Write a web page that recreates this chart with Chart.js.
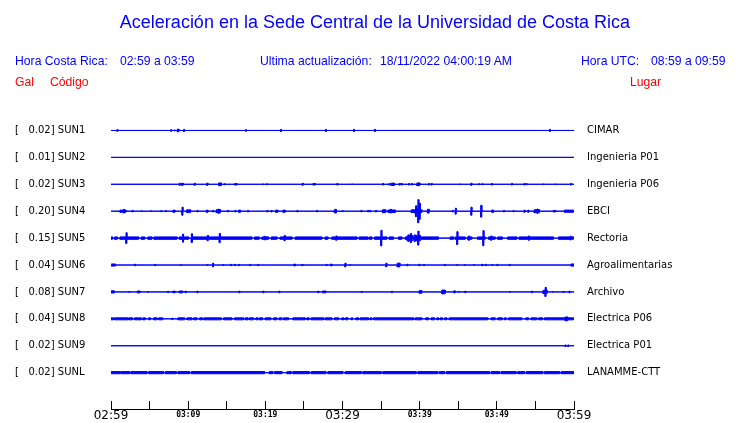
<!DOCTYPE html>
<html>
<head>
<meta charset="utf-8">
<script src="https://cdn.jsdelivr.net/npm/chart.js@4.4.1/dist/chart.umd.min.js"></script>
<style>
  body { margin: 0; background: #fff; }
  #wrap { position: relative; width: 740px; height: 423px; overflow: hidden; }
  #chart { position: absolute; left: 0; top: 0; }
  .t { position: absolute; white-space: pre; font-family: "Liberation Sans", Arial, sans-serif; line-height: 1; }
  .blue { color: #0000ff; }
  .red { color: #ff0000; }
  .hd { font-size: 12.2px; }
</style>
</head>
<body>
<div id="wrap">
  <canvas id="chart" width="740" height="423"></canvas>
  <div class="t blue" style="left:5px;width:740px;text-align:center;top:13px;font-size:18px">Aceleración en la Sede Central de la Universidad de Costa Rica</div>
  <div class="t blue hd" style="left:15px;top:55px">Hora Costa Rica:</div>
  <div class="t blue hd" style="left:120px;top:55px">02:59 a 03:59</div>
  <div class="t blue hd" style="left:260px;top:55px">Ultima actualización:</div>
  <div class="t blue hd" style="left:380px;top:55px">18/11/2022 04:00:19 AM</div>
  <div class="t blue hd" style="left:581px;top:55px">Hora UTC:</div>
  <div class="t blue hd" style="left:651px;top:55px">08:59 a 09:59</div>
  <div class="t red hd" style="left:15px;top:76px">Gal</div>
  <div class="t red hd" style="left:50px;top:76px">Código</div>
  <div class="t red hd" style="left:630px;top:76px">Lugar</div>
</div>
<script>
// estaciones, de arriba hacia abajo
const codes = ['SUN1', 'SUN2', 'SUN3', 'SUN4', 'SUN5', 'SUN6', 'SUN7', 'SUN8', 'SUN9', 'SUNL'];
const fullScale = ['0.02', '0.01', '0.02', '0.20', '0.15', '0.04', '0.08', '0.04', '0.02', '0.02'];
const places = ['CIMAR', 'Ingenieria P01', 'Ingenieria P06', 'EBCI', 'Rectoria', 'Agroalimentarias',
  'Archivo', 'Electrica P06', 'Electrica P01', 'LANAMME-CTT'];
// etiquetas del eje de tiempo (cada 10 min desde 02:59)
const timeLabels = ['02:59', '03:09', '03:19', '03:29', '03:39', '03:49', '03:59'];

// tiempos en minutos desde 02:59, amplitud en fracción de la separación entre trazas
// picos: [t, amp]   ráfagas: [t0, t1, amp]   ruido continuo: [t0, t1]
const sun1Spikes = [[0.77, 0.03], [7.73, 0.03], [8.2, 0.02], [9.41, 0.04], [17.44, 0.03], [21.97, 0.04],
  [27.8, 0.04], [31.43, 0.04], [34.15, 0.04], [56.82, 0.04]];
const sun1Bursts = [[8.6, 8.8, 0.05]];

const sun3Spikes = [[8.85, 0.04], [10.79, 0.04], [14.64, 0.02], [16.02, 0.03], [16.19, 0.03], [19.65, 0.015],
  [20.16, 0.02], [24.78, 0.04], [26.17, 0.03], [26.38, 0.03], [29.27, 0.03], [31.17, 0.015], [35.19, 0.03],
  [36.01, 0.03], [37.35, 0.03], [37.61, 0.03], [38.56, 0.03], [38.95, 0.03], [41.15, 0.03], [41.5, 0.03],
  [45.16, 0.015], [47.63, 0.02], [48.06, 0.02], [49.31, 0.03], [51.9, 0.03], [53.54, 0.03], [53.84, 0.02],
  [56.0, 0.015], [57.51, 0.015], [59.54, 0.03]];
const sun3Bursts = [[9.15, 9.35, 0.04], [12.4, 12.55, 0.04], [13.95, 14.3, 0.05], [36.31, 36.74, 0.045],
  [39.64, 40.03, 0.05], [46.63, 46.76, 0.04]];

const sun4Bursts = [[1.17, 1.94, 0.04], [8.03, 8.29, 0.04], [9.8, 10.32, 0.05], [12.35, 12.56, 0.04],
  [13.64, 14.2, 0.055], [16.54, 16.8, 0.04], [21.33, 21.63, 0.04], [22.28, 22.58, 0.04], [28.93, 29.23, 0.05],
  [35.19, 35.6, 0.055], [35.9, 36.87, 0.045], [38.9, 39.4, 0.05], [39.4, 40.1, 0.08], [40.07, 40.28, 0.055],
  [41.0, 41.23, 0.07], [46.63, 46.76, 0.1], [47.88, 48.06, 0.12], [49.35, 49.57, 0.045], [54.84, 55.53, 0.055],
  [58.76, 59.93, 0.04]];
const sun4Spikes = [[1.64, 0.07], [2.72, 0.03], [3.89, 0.03], [5.14, 0.015], [6.43, 0.02], [7.08, 0.02],
  [9.2, 0.15], [11.14, 0.03], [13.17, 0.03], [13.9, 0.08], [15.07, 0.03], [16.06, 0.03], [17.7, 0.03],
  [20.2, 0.03], [20.73, 0.03], [24.09, 0.03], [26.64, 0.03], [29.05, 0.07], [29.97, 0.02], [32.38, 0.03],
  [33.25, 0.03], [33.51, 0.03], [34.28, 0.03], [36.2, 0.07], [39.5, 0.2], [39.77, 0.43], [39.94, 0.3],
  [44.21, 0.03], [44.62, 0.11], [46.65, 0.15], [47.92, 0.22], [50.86, 0.03], [52.11, 0.02], [53.54, 0.04],
  [54.02, 0.04], [55.22, 0.08], [57.3, 0.03], [57.51, 0.03]];

const sun5Noise = [[0, 0.2], [0.47, 0.82], [1.17, 3.58], [3.93, 4.36], [4.79, 5.31], [5.57, 8.55], [8.85, 10.06],
  [10.58, 18.26], [18.61, 19.21], [19.56, 20.42], [20.77, 21.5], [21.93, 23.45], [23.88, 27.33], [27.76, 28.11],
  [28.63, 31.87], [32.17, 33.29], [33.46, 33.81], [34.15, 35.75], [36.05, 36.61], [37.26, 37.69], [38.13, 42.44],
  [43.96, 44.39], [44.6, 45.9], [46.2, 46.76], [47.5, 48.49], [48.92, 49.78], [50.13, 50.73], [51.42, 52.59],
  [52.89, 57.34], [57.99, 59.93]];
const sun5Bursts = [[38.4, 39.1, 0.1], [39.5, 40.1, 0.1]];
const sun5Spikes = [[1.94, 0.2], [9.28, 0.15], [10.41, 0.16], [12.48, 0.1], [14.03, 0.17], [19.9, 0.07],
  [22.45, 0.1], [29.14, 0.08], [34.97, 0.29], [38.5, 0.12], [38.8, 0.17], [39.3, 0.12], [39.77, 0.26],
  [44.82, 0.24], [46.33, 0.08], [48.2, 0.28], [49.22, 0.08], [54.1, 0.08], [59.5, 0.07]];

const sun6Bursts = [[0.04, 0.56, 0.04], [23.7, 23.88, 0.035], [28.45, 28.63, 0.035], [37.09, 37.44, 0.07],
  [59.63, 60, 0.04]];
const sun6Spikes = [[3.07, 0.03], [5.66, 0.025], [9.02, 0.015], [12.44, 0.015], [13.17, 0.07], [14.46, 0.015],
  [15.5, 0.025], [16.02, 0.025], [16.54, 0.025], [17.96, 0.025], [19.0, 0.025], [24.74, 0.025], [27.89, 0.025],
  [30.31, 0.07], [30.92, 0.015], [35.62, 0.07], [38.34, 0.03], [39.9, 0.03], [40.5, 0.025], [43.22, 0.025],
  [44.78, 0.015], [45.81, 0.015], [46.98, 0.015], [48.06, 0.03], [48.53, 0.025], [49.35, 0.015], [50.0, 0.025],
  [51.6, 0.025]];

const sun7Bursts = [[0, 0.43, 0.04], [3.41, 3.76, 0.035], [8.03, 8.33, 0.03], [8.85, 9.28, 0.035],
  [27.42, 27.85, 0.035], [39.94, 40.28, 0.05], [42.88, 43.31, 0.07], [44.43, 44.6, 0.04], [55.99, 56.52, 0.06]];
const sun7Spikes = [[2.29, 0.015], [4.75, 0.015], [7.34, 0.025], [9.63, 0.03], [11.14, 0.03], [16.58, 0.03],
  [19.69, 0.03], [21.76, 0.03], [26.81, 0.03], [32.43, 0.02], [36.36, 0.025], [45.03, 0.015], [45.85, 0.03],
  [51.64, 0.015], [54.49, 0.03], [56.26, 0.17], [57.21, 0.015], [58.59, 0.02], [59.37, 0.03]];

const sun8Noise = [[0, 0.35], [0.47, 2.2], [2.29, 2.81], [3.07, 3.5], [3.58, 3.93], [4.15, 4.45], [4.88, 5.1],
  [5.53, 5.96], [6.17, 6.69], [8.68, 9.54], [9.84, 10.49], [10.71, 11.14], [11.49, 11.87], [12.05, 14.29],
  [14.59, 15.67], [16.02, 17.18], [17.4, 17.75], [17.92, 18.48], [18.78, 19.04], [19.21, 19.65], [19.99, 20.73],
  [21.07, 21.5], [21.8, 22.15], [22.37, 23.01], [23.58, 25.17], [25.39, 25.69], [25.95, 27.55], [27.76, 28.63],
  [28.97, 29.49], [29.92, 30.14], [30.35, 30.7], [31.13, 31.3], [31.74, 32.08], [32.3, 33.38], [33.59, 33.81],
  [34.02, 39.2], [39.42, 40.28], [40.8, 41.15], [41.49, 41.93], [42.23, 42.44], [42.66, 42.96], [43.22, 43.52],
  [43.83, 48.83], [49.27, 49.78], [50.13, 50.73], [50.99, 51.21], [51.51, 53.24], [53.76, 54.1], [54.45, 55.18],
  [55.4, 55.92], [56.17, 59.93]];
const sun8Bursts = [[58.85, 59.2, 0.07]];
const sun8Spikes = [[7.9, 0.03]];

const sun9Spikes = [[58.85, 0.03], [59.2, 0.03]];

const sunlNoise = [[0, 1.21], [1.34, 2.42], [2.59, 4.66], [4.88, 6.82], [7.04, 8.46], [8.68, 10.19], [10.41, 19.9],
  [20.51, 20.98], [21.2, 22.15], [22.8, 23.36], [23.58, 25.69], [25.95, 27.85], [28.11, 30.05], [30.35, 32.43],
  [32.64, 35.02], [35.23, 39.55], [39.77, 42.36], [42.57, 43.22], [43.44, 49.05], [49.27, 50.35], [50.56, 52.5],
  [52.72, 53.58], [53.8, 55.96], [56.17, 58.12], [58.33, 60]];

// nivel de ruido de las trazas continuas
const noiseAmp = [0, 0, 0, 0, 0.045, 0, 0, 0.037, 0, 0.04];

const traces = [
  { noise: [], bursts: sun1Bursts, spikes: sun1Spikes },
  { noise: [], bursts: [], spikes: [] },
  { noise: [], bursts: sun3Bursts, spikes: sun3Spikes },
  { noise: [], bursts: sun4Bursts, spikes: sun4Spikes },
  { noise: sun5Noise, bursts: sun5Bursts, spikes: sun5Spikes },
  { noise: [], bursts: sun6Bursts, spikes: sun6Spikes },
  { noise: [], bursts: sun7Bursts, spikes: sun7Spikes },
  { noise: sun8Noise, bursts: sun8Bursts, spikes: sun8Spikes },
  { noise: [], bursts: [], spikes: sun9Spikes },
  { noise: sunlNoise, bursts: [], spikes: [] }
];

const spikeWidth = 0.12;

// envolvente escalonada (arriba: sign -1, abajo: sign +1)
function envelope(row, intervals, sign) {
  const cuts = [0, 60];
  intervals.forEach(iv => { cuts.push(Math.min(iv[0], 60), Math.min(iv[1], 60)); });
  const xs = [...new Set(cuts)].sort((a, b) => a - b);
  const pts = [];
  for (let k = 0; k < xs.length - 1; k++) {
    const mid = (xs[k] + xs[k + 1]) / 2;
    let amp = 0;
    intervals.forEach(iv => {
      if (iv[0] <= mid && mid <= iv[1]) amp = Math.max(amp, iv[2]);
    });
    pts.push({ x: xs[k], y: row + sign * amp }, { x: xs[k + 1], y: row + sign * amp });
  }
  return pts;
}

const datasets = [];
traces.forEach((tr, i) => {
  const intervals = []
    .concat(tr.noise.map(s => [s[0], s[1], noiseAmp[i]]))
    .concat(tr.bursts)
    .concat(tr.spikes.map(s => [s[0], s[0] + spikeWidth, s[1]]));
  datasets.push({ data: envelope(i, intervals, -1), fill: false });
  datasets.push({ data: envelope(i, intervals, 1), fill: '-1' });
});

const rowTicks = scale => { scale.ticks = codes.map((c, i) => ({ value: i })); };

new Chart(document.getElementById('chart'), {
  type: 'line',
  data: { datasets: datasets },
  options: {
    responsive: false,
    animation: false,
    layout: { padding: { top: 117, left: 15, right: 0, bottom: 0 } },
    plugins: { legend: { display: false }, tooltip: { enabled: false } },
    elements: {
      point: { radius: 0 },
      line: { borderWidth: 1, borderColor: '#0000ff', backgroundColor: '#0000ff', tension: 0 }
    },
    scales: {
      x: {
        type: 'linear', min: 0, max: 60,
        ticks: {
          stepSize: 5, autoSkip: false, maxRotation: 0, padding: 8, color: '#000',
          callback: v => (v % 10 === 0 ? timeLabels[v / 10] : ''),
          font: ctx => (ctx.tick && ctx.tick.value % 30 === 0)
            ? { family: 'DejaVu Sans', size: 12, lineHeight: 1.2 }
            : { family: 'DejaVu Sans Mono', size: 8, weight: 'bold', lineHeight: 1.5 }
        },
        grid: { drawOnChartArea: false, drawTicks: true, tickLength: -8, color: '#000' },
        border: { color: '#000', width: 1 },
        afterFit: s => { s.height = 14; s.paddingLeft = 0; s.paddingRight = 0; }
      },
      y: {
        type: 'linear', position: 'left', reverse: true, min: -0.5, max: 10.35,
        grid: { display: false, drawTicks: false }, border: { display: false },
        ticks: {
          autoSkip: false, crossAlign: 'far', color: '#000',
          font: { family: 'DejaVu Sans', size: 10 },
          callback: v => '[   ' + fullScale[v] + '] ' + codes[v]
        },
        afterBuildTicks: rowTicks,
        afterFit: s => { s.width = 96; s.paddingTop = 0; s.paddingBottom = 0; }
      },
      y2: {
        type: 'linear', position: 'right', reverse: true, min: -0.5, max: 10.35,
        grid: { display: false, drawTicks: false }, border: { display: false },
        ticks: {
          autoSkip: false, padding: 13, color: '#000',
          font: { family: 'DejaVu Sans', size: 10 },
          callback: v => places[v]
        },
        afterBuildTicks: rowTicks,
        afterFit: s => { s.width = 166; s.paddingTop = 0; s.paddingBottom = 0; }
      }
    }
  }
});
</script>
</body>
</html>
